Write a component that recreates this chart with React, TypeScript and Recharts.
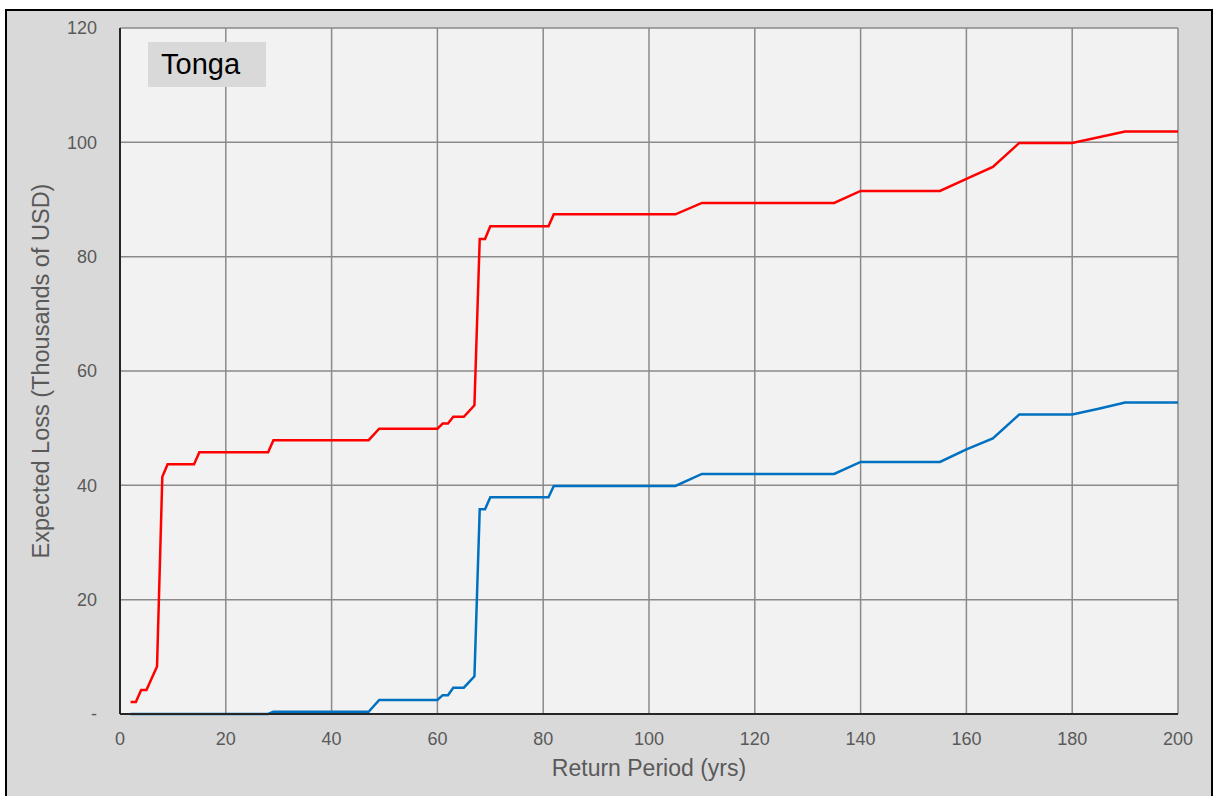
import { LineChart, Line, XAxis, YAxis, CartesianGrid, Label } from 'recharts';

// return period (yrs) breakpoints
const returnPeriods = [
  2, 3, 4, 5, 7, 8, 9, 14, 15, 28, 29, 47, 49, 60, 61, 62, 63, 65, 67, 68,
  69, 70, 81, 82, 105, 110, 135, 140, 155, 160, 165, 170, 180, 185, 190, 200,
];

// expected loss, thousands of USD
const upperLoss = [
  2.1, 2.1, 4.2, 4.2, 8.3, 41.5, 43.7, 43.7, 45.8, 45.8, 47.9, 47.9, 49.9, 49.9,
  50.8, 50.8, 52, 52, 54, 83.1, 83.1, 85.3, 85.3, 87.4, 87.4, 89.4, 89.4, 91.5,
  91.5, 93.6, 95.7, 99.9, 99.9, 100.9, 101.9, 101.9,
];

const lowerLoss = [
  0, 0, 0, 0, 0, 0, 0, 0, 0, 0, 0.4, 0.4, 2.45, 2.45, 3.3, 3.3, 4.6, 4.6, 6.6,
  35.8, 35.8, 37.9, 37.9, 39.9, 39.9, 42, 42, 44.1, 44.1, 46.3, 48.2, 52.4,
  52.4, 53.4, 54.5, 54.5,
];

const xTicks = [0, 20, 40, 60, 80, 100, 120, 140, 160, 180, 200];
const yTicks = [0, 20, 40, 60, 80, 100, 120];

const data = returnPeriods.map((rp, i) => ({
  rp,
  upper: upperLoss[i],
  lower: lowerLoss[i],
}));

const FONT = '"Liberation Sans", Arial, sans-serif';
const TEXT = '#595959';

export default function App() {
  return (
    <div style={{
      position: 'absolute',
      left: 5,
      top: 9,
      width: 1204,
      height: 800,
      border: '2px solid #000',
      background: '#d9d9d9',
      fontFamily: FONT,
    }}>
      <LineChart
        width={1204}
        height={790}
        data={data}
        margin={{ top: 17, right: 33, bottom: 17, left: 0 }}
      >
        <CartesianGrid
          fill="#f2f2f2"
          stroke="#8a8a8a"
          strokeWidth={1.5}
          horizontalValues={yTicks}
          verticalValues={xTicks}
        />
        <XAxis
          dataKey="rp"
          type="number"
          domain={[0, 200]}
          ticks={xTicks}
          height={70}
          tickSize={0}
          tickMargin={18}
          axisLine={{ stroke: '#262626', strokeWidth: 2 }}
          tickLine={false}
          tick={{ fill: TEXT, fontSize: 18, fontFamily: FONT }}
        >
          <Label
            value="Return Period (yrs)"
            position="center"
            dy={19}
            style={{ fill: TEXT, fontSize: 23, fontFamily: FONT }}
          />
        </XAxis>
        <YAxis
          type="number"
          domain={[0, 120]}
          ticks={yTicks}
          width={113}
          tickSize={0}
          tickMargin={23}
          axisLine={{ stroke: '#262626', strokeWidth: 2 }}
          tickLine={false}
          tickFormatter={(v: number) => (v === 0 ? '-' : String(v))}
          tick={{ fill: TEXT, fontSize: 18, fontFamily: FONT }}
        >
          <Label
            value="Expected Loss (Thousands of USD)"
            angle={-90}
            position="center"
            dx={-23}
            style={{ fill: TEXT, fontSize: 23.5, fontFamily: FONT, textAnchor: 'middle' }}
          />
        </YAxis>
        <Line
          type="linear"
          dataKey="upper"
          stroke="#ff0000"
          strokeWidth={2.5}
          dot={false}
          activeDot={false}
          isAnimationActive={false}
        />
        <Line
          type="linear"
          dataKey="lower"
          stroke="#0070c0"
          strokeWidth={2.5}
          dot={false}
          activeDot={false}
          isAnimationActive={false}
        />
      </LineChart>
      <div style={{
        position: 'absolute',
        left: 141,
        top: 31,
        width: 118,
        height: 45,
        background: '#d9d9d9',
        color: '#000',
        fontSize: 29,
        lineHeight: '45px',
        paddingLeft: 13,
        boxSizing: 'border-box',
      }}>
        Tonga
      </div>
    </div>
  );
}
